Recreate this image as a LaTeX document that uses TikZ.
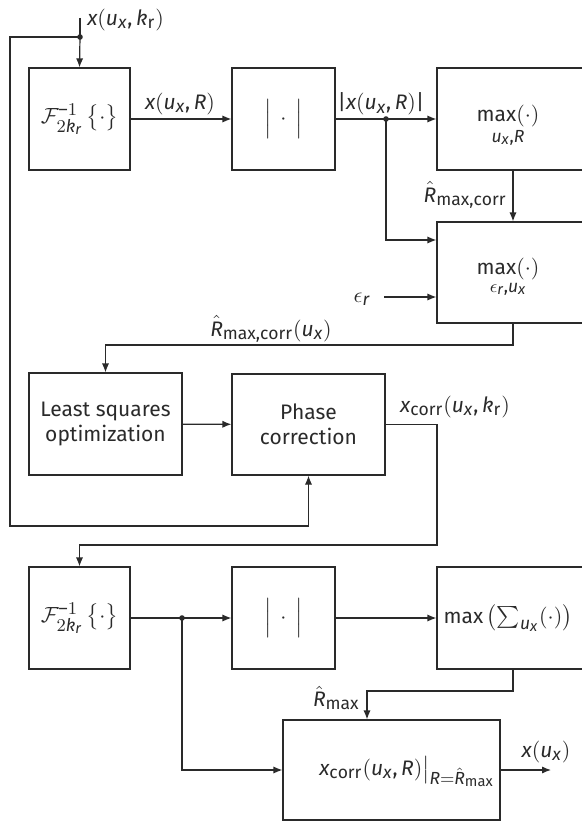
\documentclass[tikz,border=0pt]{standalone}
\usepackage{amsmath}
\usepackage{fontspec}
\setmainfont{Fira Sans}
\usepackage[italic]{mathastext}
\usetikzlibrary{arrows.meta}
\definecolor{linec}{HTML}{2A2A2A}
\begin{document}
\begin{tikzpicture}[x=0.5pt,y=-0.5pt,
  font=\fontsize{10.5}{12.5}\selectfont,
  blk/.style={draw=linec, line width=0.6pt, minimum height=51pt, inner sep=0pt, align=center, text=linec},
  lab/.style={inner sep=1pt, text=linec},
  conn/.style={draw=linec, line width=0.6pt},
  arr/.style={conn, -{Latex[length=4.5pt,width=3.6pt]}},
  dotn/.style={circle, fill=linec, minimum size=2.8pt, inner sep=0pt}]
\useasboundingbox (0,0) rectangle (582,824);
% helper coordinates
\coordinate (x513) at (513,0);
\coordinate (y240) at (0,240);
% ---------- row 1 ----------
\node[blk, minimum width=50.5pt] (F1) at (79.5,119) {$\mathcal{F}^{-1}_{2k_r}\left\{\cdot\right\}$};
\node[blk, minimum width=51.5pt] (A1) at (283.5,119) {$\Big|\,\cdot\,\Big|$};
\node[blk, minimum width=73.5pt] (M1) at (510.5,119) {};
\node[lab] (M1t) at (508,126) {$\underset{u_x,R}{\max(\cdot)}$};
\coordinate (in) at (80,18);
\node[dotn] (d1) at (80,37) {};
\node[lab, anchor=west] (inl) at (85,20) {$x(u_x,k_{\mathrm{r}})$};
\draw[conn] (in) -- (d1.center);
\draw[arr] (d1.center) -- (F1.north);
\draw[arr] (F1) -- (A1);
\node[lab] (l1) at (180,104) {$x(u_x,R)$};
\draw[arr] (A1) -- (M1);
\node[lab] (l2) at (381,104) {$|x(u_x,R)|$};
\node[dotn] (d2) at (386,119) {};
% ---------- row 2 ----------
\node[blk, minimum width=73.5pt, minimum height=50.5pt] (M2) at (510.5,272.5) {};
\node[lab] (M2t) at (508,278) {$\underset{\epsilon_r,u_x}{\max(\cdot)}$};
\draw[arr] (d2.center) |- (M2.west |- y240);
\draw[arr] (M1.south -| x513) -- (M2.north -| x513);
\node[lab, anchor=east] (l3) at (509,195) {$\hat{R}_{\max,\mathrm{corr}}$};
\node[lab] (eps) at (362,299) {$\epsilon_r$};
\coordinate (epsS) at (384,297);
\draw[arr] (epsS) -- (epsS -| M2.west);
% ---------- row 3 ----------
\node[blk, minimum width=76.5pt] (LS) at (105.5,424) {Least squares\\optimization};
\node[blk, minimum width=76.5pt, minimum height=50.5pt] (PC) at (308.5,424.5) {Phase\\correction};
\coordinate (b1) at (513,345);
\draw[arr] (M2.south -| b1) -- (b1) -| (LS.north);
\node[lab] (l4) at (271,329) {$\hat{R}_{\max,\mathrm{corr}}(u_x)$};
\draw[arr] (LS) -- (PC);
\coordinate (fbA) at (10,37);
\coordinate (fbB) at (10,526);
\draw[arr] (d1.center) -- (fbA) -- (fbB) -| (PC.south);
% ---------- row 4 ----------
\node[blk, minimum width=50.5pt] (F2) at (79.5,618) {$\mathcal{F}^{-1}_{2k_r}\left\{\cdot\right\}$};
\node[blk, minimum width=51.5pt] (A2) at (283.5,618) {$\Big|\,\cdot\,\Big|$};
\node[blk, minimum width=73.5pt] (M3) at (510.5,618) {};
\node[lab] (M3t) at (508,618) {$\max\left(\sum_{u_x}(\cdot)\right)$};
\coordinate (b2) at (437,545);
\draw[arr] (PC.east) -| (b2) -| (F2.north);
\node[lab] (l5) at (455,407) {$x_{\mathrm{corr}}(u_x,k_{\mathrm{r}})$};
\draw[arr] (F2) -- (A2);
\draw[arr] (A2) -- (M3);
\node[dotn] (d3) at (182,618) {};
% ---------- row 5 ----------
\node[blk, minimum width=108.5pt, minimum height=50pt] (Fin) at (391.5,770) {};
\node[lab] (Fint) at (407,772) {$x_{\mathrm{corr}}(u_x,R)\big|_{R=\hat{R}_{\max}}$};
\draw[arr] (d3.center) |- (Fin.west);
\coordinate (b3) at (367,691);
\draw[arr] (M3.south -| x513) |- (b3) -- (Fin.north -| b3);
\node[lab, anchor=east] (l6) at (362,698) {$\hat{R}_{\max}$};
\coordinate (out) at (551,770);
\draw[arr] (Fin.east) -- (out);
\node[lab] (l7) at (546,752) {$x(u_x)$};
\end{tikzpicture}
\end{document}
